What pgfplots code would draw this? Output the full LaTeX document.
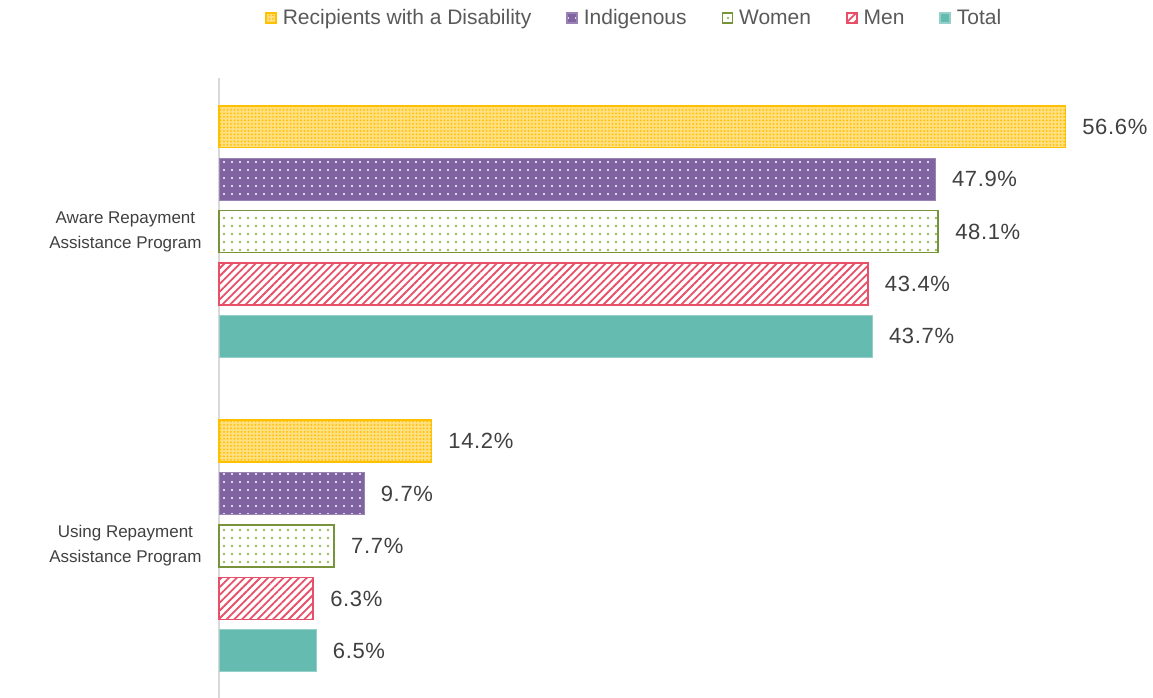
\documentclass[border=0pt]{standalone}
\usepackage{fontspec}
\setmainfont{Liberation Sans}
\newfontfamily\lblfont[LetterSpace=3]{Liberation Sans}
\usepackage{pgfplots}
\pgfplotsset{compat=1.18}
\usetikzlibrary{patterns,patterns.meta}

\definecolor{cDis}{HTML}{FFC000}
\definecolor{cInd}{HTML}{8064A2}
\definecolor{cWomB}{HTML}{77933C}
\definecolor{cWomD}{HTML}{9BBB59}
\definecolor{cMen}{HTML}{E8506A}
\definecolor{cTot}{HTML}{66BBB0}
\definecolor{cTxt}{HTML}{404040}
\definecolor{cLeg}{HTML}{595959}
\definecolor{cAx}{HTML}{D9D9D9}

\begin{document}
\begin{tikzpicture}[x=1pt,y=1pt]
\useasboundingbox (0,0) rectangle (1153,698);
\begin{axis}[
  at={(219pt,0pt)}, anchor=south west,
  scale only axis, width=927pt, height=620pt,
  xbar, bar shift=0pt, bar width=0.8,
  xmin=0, xmax=62, ymin=-0.93, ymax=10.9, y dir=reverse,
  axis x line=none, axis y line*=left,
  y axis line style={draw=cAx, line width=1.5pt, -},
  ytick={2,8},
  yticklabels={{Aware Repayment\\Assistance Program},{Using Repayment\\Assistance Program}},
  yticklabel style={align=center, font=\fontsize{17}{25}\selectfont, text=cTxt, xshift=-14pt},
  major tick length=0pt,
  clip=false,
  nodes near coords={\pgfmathprintnumber[fixed,fixed zerofill,precision=1,assume math mode=true]{\pgfplotspointmeta}\%},
  nodes near coords style={font=\lblfont\fontsize{22}{24}\selectfont, text=cTxt, anchor=west, xshift=13pt},
  legend columns=-1,
  legend style={at={(0.448,1.097)}, anchor=center, draw=none, fill=none,
    font=\fontsize{21}{24}\selectfont, text=cLeg,
    /tikz/every odd column/.append style={column sep=4pt},
    /tikz/every even column/.append style={column sep=33pt}},
  legend image code/.code={\draw[#1, line width=1.5pt] (0pt,-5pt) rectangle (10pt,5pt);},
]
\addplot[draw=cDis, line width=1.5pt, fill=cDis!50!white, postaction={pattern={Dots[distance=3.5pt,radius=1pt]}, pattern color=cDis}]
  coordinates {(56.6,0) (14.2,6)};
\addplot[draw=cInd!80!white, line width=1pt, fill=cInd, postaction={pattern={Dots[distance=8pt,radius=1.1pt]}, pattern color=white}]
  coordinates {(47.9,1) (9.7,7)};
\addplot[draw=cWomB, line width=1.5pt, fill=white, postaction={pattern={Dots[distance=8pt,radius=1.4pt]}, pattern color=cWomD}]
  coordinates {(48.1,2) (7.7,8)};
\addplot[draw=cMen, line width=1.5pt, fill=white, postaction={pattern={Lines[distance=5.5pt,angle=45,line width=1.8pt]}, pattern color=cMen}]
  coordinates {(43.4,3) (6.3,9)};
\addplot[draw=cTot!70!white, line width=0.8pt, fill=cTot]
  coordinates {(43.7,4) (6.5,10)};
\legend{Recipients with a Disability,Indigenous,Women,Men,Total}
\end{axis}
\end{tikzpicture}
\end{document}
